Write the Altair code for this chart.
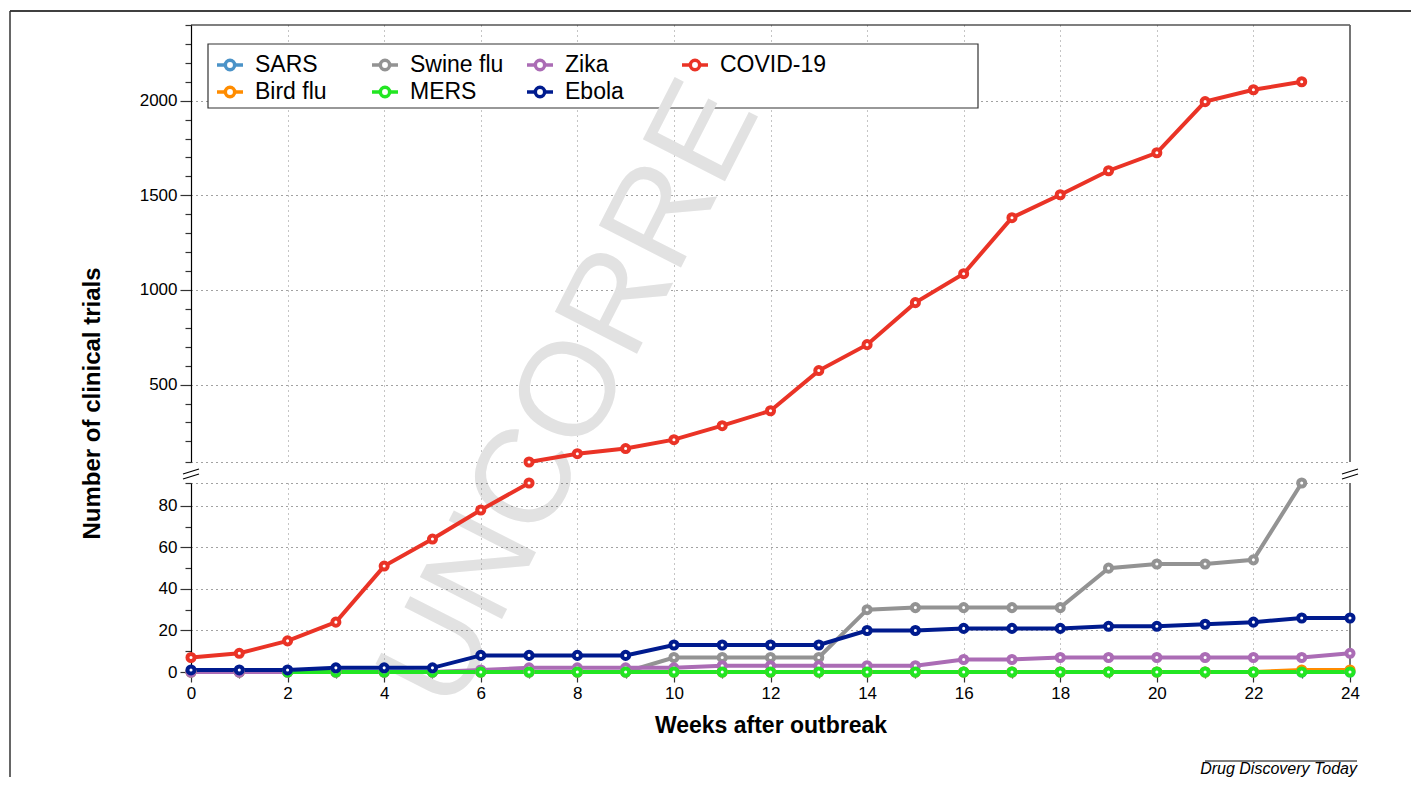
import altair as alt
import pandas as pd

# ---------------- data ----------------
weeks_all = [0, 1, 2, 3, 4, 5, 6, 7, 8, 9, 10, 11, 12, 13, 14, 15, 16, 17, 18, 19, 20, 21, 22, 23, 24]
weeks_to_23 = [0, 1, 2, 3, 4, 5, 6, 7, 8, 9, 10, 11, 12, 13, 14, 15, 16, 17, 18, 19, 20, 21, 22, 23]
weeks_from_2 = [2, 3, 4, 5, 6, 7, 8, 9, 10, 11, 12, 13, 14, 15, 16, 17, 18, 19, 20, 21, 22, 23, 24]

sars = [0, 0, 0, 0, 0, 0, 0, 0, 0, 0, 0, 0, 0, 0, 0, 0, 0, 0, 0, 0, 0, 0, 0, 0, 0]
bird_flu = [0, 0, 0, 0, 0, 0, 0, 0, 0, 0, 0, 0, 0, 0, 0, 0, 0, 0, 0, 0, 0, 0, 0, 1, 1]
swine_flu = [0, 0, 0, 0, 0, 0, 0, 0, 0, 0, 7, 7, 7, 7, 30, 31, 31, 31, 31, 50, 52, 52, 54, 91]
mers = [0, 0, 0, 0, 0, 0, 0, 0, 0, 0, 0, 0, 0, 0, 0, 0, 0, 0, 0, 0, 0, 0, 0]
zika = [0, 0, 0, 0, 0, 0, 1, 2, 2, 2, 2, 3, 3, 3, 3, 3, 6, 6, 7, 7, 7, 7, 7, 7, 9]
ebola = [1, 1, 1, 2, 2, 2, 8, 8, 8, 8, 13, 13, 13, 13, 20, 20, 21, 21, 21, 22, 22, 23, 24, 26, 26]
covid = [7, 9, 15, 24, 51, 64, 78, 91, 135, 162, 209, 283, 362, 574, 711, 933,
         1086, 1382, 1503, 1630, 1725, 1995, 2058, 2100]

legend_order = ["SARS", "Bird flu", "Swine flu", "MERS", "Zika", "Ebola", "COVID-19"]
legend_colors = ["#4b93c8", "#ff8c00", "#939393", "#22e622", "#ab6cb5", "#001b8e", "#ea3326"]

series_draw = [
    ("SARS", weeks_all, sars),
    ("Bird flu", weeks_all, bird_flu),
    ("Swine flu", weeks_to_23, swine_flu),
    ("Zika", weeks_all, zika),
    ("MERS", weeks_from_2, mers),
    ("Ebola", weeks_all, ebola),
    ("COVID-19", weeks_to_23, covid),
]

rows = []
for name, wk, vals in series_draw:
    for w, v in zip(wk, vals):
        rows.append({"series": name, "week": w, "value": v})
df = pd.DataFrame(rows)

BREAK = 91
lower_df = df[df["value"] <= BREAK]
upper_df = df[(df["series"] == "COVID-19") & (df["value"] >= BREAK)]
one = pd.DataFrame({"k": [0]})

# ---------------- style ----------------
FONT = "Liberation Sans"
W, HU, HL = 1159, 437, 189
color_scale = alt.Scale(domain=legend_order, range=legend_colors)
legend_path = "M-1,0H-0.36M0.36,0H1M0.36,0A0.36,0.36,0,1,1,-0.36,0A0.36,0.36,0,1,1,0.36,0Z"

legend = alt.Legend(
    orient="none", legendX=24, legendY=25, columns=4, title=None,
    symbolType=legend_path, symbolSize=676, symbolStrokeWidth=3.5,
    symbolFillColor="white", labelFont=FONT, labelFontSize=23, labelColor="black",
    labelOffset=10, rowPadding=0, columnPadding=3, gridAlign="all", padding=0,
    labelLimit=300,
)

x_scale = alt.Scale(domain=[0, 24], nice=False, zero=False)
PT = dict(filled=False, fill="white", size=50, strokeWidth=4, opacity=1)
LW = 4

# ---------------- upper panel ----------------
x_up = alt.X("week:Q", scale=x_scale,
             axis=alt.Axis(values=[2, 4, 6, 8, 10, 12, 14, 16, 18, 20, 22], labels=False, ticks=False,
                           domain=False, title=None, grid=True, gridColor="#8a8a8a",
                           gridDash=[1, 4], gridWidth=1, tickCount=100))
y_up_vals = [91] + list(range(200, 2500, 100))
y_up = alt.Y("value:Q", scale=alt.Scale(domain=[BREAK, 2400], nice=False, zero=False),
             axis=alt.Axis(values=y_up_vals, title=None, tickCount=100, format="d",
                           labelExpr="datum.value % 500 === 0 ? datum.label : ''",
                           tickSize={"condition": {"test": "datum.value % 500 === 0", "value": 11}, "value": 6},
                           labelPadding=3, labelOverlap=False,
                           grid=True, gridColor="#444444", gridDash=[1, 4], gridWidth=1,
                           gridOpacity={"condition": {"test": "datum.value % 500 === 0 || datum.value === 91", "value": 1}, "value": 0}))

frame_top = alt.Chart(one).mark_rule(color="black", strokeWidth=1.5).encode(
    x=alt.value(-181), x2=alt.value(1220), y=alt.value(-14))
frame_left = alt.Chart(one).mark_rule(color="#333333", strokeWidth=1.5).encode(
    x=alt.value(-181), y=alt.value(-14), y2=alt.value(752))
legend_box = alt.Chart(one).mark_rect(fill="white", stroke="#333333", strokeWidth=1.2).encode(
    x=alt.value(17), x2=alt.value(787), y=alt.value(19), y2=alt.value(83))
watermark = alt.Chart(one).mark_text(
    text="UNCORRE", angle=297, fontSize=134, font=FONT, color="#e2e2e2",
    align="left", baseline="alphabetic").encode(x=alt.value(262), y=alt.value(690))
top_border = alt.Chart(one).mark_rule(color="black", strokeWidth=1.2).encode(
    y=alt.datum(2400), x=alt.value(0), x2=alt.value(W))
right_border_up = alt.Chart(one).mark_rule(color="#666666", strokeWidth=1.8).encode(
    x=alt.datum(24), y=alt.value(0), y2=alt.value(HU))

up_line = alt.Chart(upper_df).mark_line(strokeWidth=LW).encode(
    x=x_up, y=y_up, color=alt.Color("series:N", scale=color_scale, legend=legend))
up_pts = alt.Chart(upper_df).mark_point(**PT).encode(
    x="week:Q", y="value:Q", color=alt.Color("series:N", scale=color_scale, legend=legend))

upper = alt.layer(legend_box, watermark, top_border, right_border_up, frame_top, frame_left,
                  up_line, up_pts).properties(width=W, height=HU)

# ---------------- lower panel ----------------
x_lo = alt.X("week:Q", scale=x_scale,
             axis=alt.Axis(values=weeks_all, title="Weeks after outbreak", tickCount=100, format="d",
                           labelExpr="datum.value % 2 === 0 ? datum.label : ''",
                           tickSize={"condition": {"test": "datum.value % 2 === 0", "value": 10}, "value": 6},
                           labelPadding=3, labelFlush=False, labelOverlap=False,
                           titleX=W / 2, titleY=53, titleAlign="center", titleBaseline="middle",
                           grid=True, gridColor="#8a8a8a", gridDash=[1, 4], gridWidth=1,
                           gridOpacity={"condition": {"test": "datum.value % 2 === 0 && datum.value > 0 && datum.value < 24", "value": 1}, "value": 0}))
y_lo = alt.Y("value:Q", scale=alt.Scale(domain=[0, BREAK], nice=False, zero=False),
             axis=alt.Axis(values=[0, 10, 20, 30, 40, 50, 60, 70, 80, 91], tickCount=100, format="d",
                           title="Number of clinical trials",
                           titleX=-99, titleY=-80, titleAngle=270, titleAlign="center", titleBaseline="middle",
                           titleFontSize=24,
                           labelExpr="datum.value % 20 === 0 ? datum.label : ''",
                           tickSize={"condition": {"test": "datum.value % 20 === 0", "value": 11}, "value": 6},
                           labelPadding=3, labelOverlap=False,
                           grid=True, gridColor="#444444", gridDash=[1, 4], gridWidth=1,
                           gridOpacity={"condition": {"test": "datum.value > 0 && (datum.value % 20 === 0 || datum.value === 91)", "value": 1}, "value": 0}))

right_border_lo = alt.Chart(one).mark_rule(color="#666666", strokeWidth=1.8).encode(
    x=alt.datum(24), y=alt.value(0), y2=alt.value(HL))
brk = []
for bx in (0, W):
    brk.append(alt.Chart(one).mark_rule(color="black", strokeWidth=1.2).encode(
        x=alt.value(bx - 8), y=alt.value(-9), x2=alt.value(bx + 8), y2=alt.value(-14)))
    brk.append(alt.Chart(one).mark_rule(color="black", strokeWidth=1.2).encode(
        x=alt.value(bx - 8), y=alt.value(-4), x2=alt.value(bx + 8), y2=alt.value(-9)))
source_rule = alt.Chart(one).mark_rule(color="black", strokeWidth=1).encode(
    x=alt.value(1014), x2=alt.value(1166), y=alt.value(278))
source_text = alt.Chart(one).mark_text(
    text="Drug Discovery Today", font=FONT, fontSize=16, fontStyle="italic", color="black",
    align="right", baseline="alphabetic").encode(x=alt.value(1166), y=alt.value(291))

lo_line = alt.Chart(lower_df).mark_line(strokeWidth=LW).encode(
    x=x_lo, y=y_lo, color=alt.Color("series:N", scale=color_scale, legend=None))
lo_pts = alt.Chart(lower_df).mark_point(**PT).encode(
    x="week:Q", y="value:Q", color=alt.Color("series:N", scale=color_scale, legend=None))

lower = alt.layer(right_border_lo, *brk, source_rule, source_text, lo_line, lo_pts).properties(width=W, height=HL)

chart = alt.vconcat(upper, lower, spacing=21, bounds="flush").resolve_scale(
    color="independent"
).properties(
    padding={"left": 1, "top": 2, "right": 0, "bottom": 0}, background="white"
).configure_view(stroke=None).configure_axis(
    labelFont=FONT, labelFontSize=17, labelColor="black",
    titleFont=FONT, titleFontSize=23, titleFontWeight="bold", titleColor="black",
    domainColor="black", domainWidth=1.2, tickColor="#333333", tickWidth=1.2,
)

chart.save("out.html", embed_options={"renderer": "svg", "actions": False})
